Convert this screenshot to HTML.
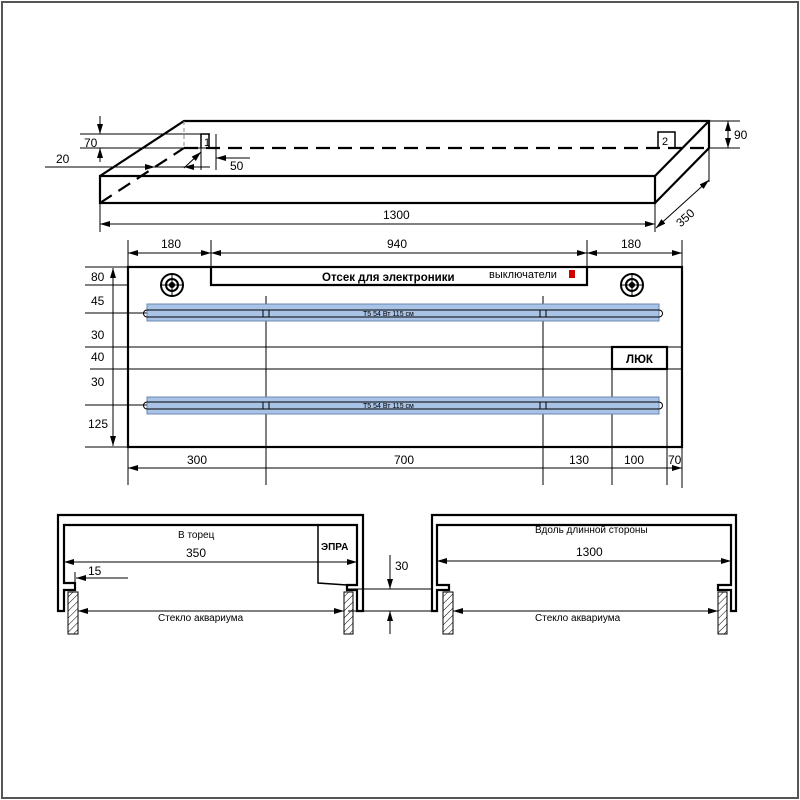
<!DOCTYPE html>
<html><head><meta charset="utf-8"><style>body{margin:0;background:#fff}svg{display:block}text{font-family:"Liberation Sans",sans-serif;fill:#000}</style></head>
<body>
<svg width="800" height="800" viewBox="0 0 800 800" xmlns="http://www.w3.org/2000/svg">
<defs>
<marker id="a" viewBox="0 0 10 6" refX="10" refY="3" markerWidth="10" markerHeight="6" orient="auto-start-reverse" markerUnits="userSpaceOnUse"><path d="M0,0L10,3L0,6z"/></marker>
<pattern id="h" width="5" height="5" patternUnits="userSpaceOnUse" patternTransform="rotate(45)"><line x1="0" y1="0" x2="0" y2="5" stroke="#000" stroke-width="1"/></pattern>
</defs>
<rect x="2" y="2" width="796" height="796" fill="none" stroke="#555" stroke-width="2"/>

<!-- 3D box -->
<g stroke="#000" fill="none">
<g stroke-width="2.2">
<rect x="100" y="176" width="555" height="27"/>
<path d="M100,176L184,121H709V148L655,203M655,176L709,121"/>
<path d="M184,148H709M100,203L184,148" stroke-dasharray="14,8"/>
</g>
<line x1="184" y1="121" x2="184" y2="148" stroke="#888" stroke-dasharray="4,3"/>
<path d="M201,148V134H209V148M658,148V132H675V148" stroke-width="1.5"/>
<g stroke-width="1">
<path d="M80,134H210M80,148H210M45,167H210M201,134V170M216,134V170M100,203V232M655,203V232M709,121H740M709,148H740M709,148V182"/>
<line x1="100" y1="116" x2="100" y2="134" marker-end="url(#a)"/>
<line x1="100" y1="162" x2="100" y2="148" marker-end="url(#a)"/>
<line x1="125" y1="167" x2="155" y2="167" marker-end="url(#a)"/>
<line x1="200" y1="167" x2="184" y2="167" marker-end="url(#a)"/>
<line x1="184" y1="168" x2="201" y2="152" marker-end="url(#a)"/>
<line x1="250" y1="158" x2="216" y2="158" marker-end="url(#a)"/>
<line x1="100" y1="224" x2="655" y2="224" marker-start="url(#a)" marker-end="url(#a)"/>
<line x1="728" y1="121" x2="728" y2="148" marker-start="url(#a)" marker-end="url(#a)"/>
<line x1="656" y1="228" x2="709" y2="180" marker-start="url(#a)" marker-end="url(#a)"/>
</g>
</g>
<g font-size="12">
<text x="84" y="147">70</text><text x="56" y="163">20</text><text x="230" y="170">50</text>
<text x="204" y="146" font-size="11">1</text><text x="662" y="145" font-size="11">2</text>
<text x="383" y="219">1300</text><text x="734" y="139">90</text>
<text x="670" y="224" transform="rotate(-42 680 212)">350</text>
</g>

<!-- plan -->
<g stroke="#000" fill="none">
<rect x="128" y="267" width="554" height="180" stroke-width="2.2"/>
<path d="M211,267V285H587V267" stroke-width="2.2"/>
<rect x="612" y="347" width="55" height="22" stroke-width="2.2"/>
<g stroke-width="1">
<path d="M85,267H128M85,285H128M85,313H147M85,347H682M90,369H682M85,405H147M85,447H128M266,296V485M543,296V485M612,369V485M667,369V485M682,447V488M128,447V485M128,240V267M211,240V267M587,240V285M682,240V267"/>
<line x1="113" y1="268" x2="113" y2="446" marker-start="url(#a)" marker-end="url(#a)"/>
<line x1="128" y1="253" x2="211" y2="253" marker-start="url(#a)" marker-end="url(#a)"/>
<line x1="211" y1="253" x2="587" y2="253" marker-start="url(#a)" marker-end="url(#a)"/>
<line x1="587" y1="253" x2="682" y2="253" marker-start="url(#a)" marker-end="url(#a)"/>
<line x1="128" y1="468" x2="682" y2="468" marker-start="url(#a)" marker-end="url(#a)"/>
</g>
<g stroke-width="2">
<circle cx="172" cy="285" r="11"/><circle cx="172" cy="285" r="6"/>
<circle cx="632" cy="285" r="11"/><circle cx="632" cy="285" r="6"/>
</g>
<circle cx="172" cy="285" r="2.5" fill="#000"/><circle cx="632" cy="285" r="2.5" fill="#000"/>
<path d="M160,285H184M172,273V297M620,285H644M632,273V297" stroke-width="1"/>
<rect x="147" y="304" width="512" height="17" fill="#a9c3e6" stroke="#6b87b0" stroke-width="1"/>
<rect x="147" y="397" width="512" height="17" fill="#a9c3e6" stroke="#6b87b0" stroke-width="1"/>
<path d="M147,310H659A3.5,3.5 0 0 1 659,317H147A3.5,3.5 0 0 1 147,310Z" stroke-width="1"/>
<path d="M147,402H659A3.5,3.5 0 0 1 659,409H147A3.5,3.5 0 0 1 147,402Z" stroke-width="1"/>
<rect x="263" y="310" width="6" height="7" stroke-width="1"/><rect x="540" y="310" width="6" height="7" stroke-width="1"/>
<rect x="263" y="402" width="6" height="7" stroke-width="1"/><rect x="540" y="402" width="6" height="7" stroke-width="1"/>
</g>
<rect x="569" y="270" width="6" height="8" fill="#c00"/>
<g font-size="12">
<text x="322" y="281" font-weight="bold" font-size="11.5">Отсек для электроники</text>
<text x="489" y="278" font-size="11">выключатели</text>
<text x="626" y="363" font-weight="bold" font-size="11.5">ЛЮК</text>
<text x="363" y="316" font-size="7">T5 54 Вт 115 см</text>
<text x="363" y="408" font-size="7">T5 54 Вт 115 см</text>
<text x="91" y="281">80</text><text x="91" y="305">45</text><text x="91" y="339">30</text>
<text x="91" y="361">40</text><text x="91" y="386">30</text><text x="88" y="428">125</text>
<text x="161" y="248">180</text><text x="387" y="248">940</text><text x="621" y="248">180</text>
<text x="187" y="464">300</text><text x="394" y="464">700</text><text x="569" y="464">130</text>
<text x="624" y="464">100</text><text x="668" y="464">70</text>
</g>

<!-- sections -->
<g stroke="#000" fill="none">
<path d="M58,611V515H363V611H357V590H347V585H357V525H64V583H75V590H64V611Z" stroke-width="2.2"/>
<path d="M318,525V583L347,585" stroke-width="1.5"/>
<path d="M432,611V515H736V611H731V590H718V585H731V525H437V585H449V590H437V611Z" stroke-width="2.2"/>
<g fill="url(#h)" stroke-width="1">
<rect x="68" y="592" width="10" height="42"/><rect x="344" y="592" width="9" height="42"/>
<rect x="443" y="592" width="10" height="42"/><rect x="718" y="592" width="9" height="42"/>
</g>
<g stroke-width="1">
<path d="M75,572V590M348,589H432M348,611H432"/>
<line x1="64" y1="562" x2="357" y2="562" marker-start="url(#a)" marker-end="url(#a)"/>
<line x1="128" y1="578" x2="76" y2="578" marker-end="url(#a)"/>
<line x1="78" y1="611" x2="344" y2="611" marker-start="url(#a)" marker-end="url(#a)"/>
<line x1="390" y1="555" x2="390" y2="589" marker-end="url(#a)"/>
<line x1="390" y1="634" x2="390" y2="611" marker-end="url(#a)"/>
<line x1="437" y1="561" x2="731" y2="561" marker-start="url(#a)" marker-end="url(#a)"/>
<line x1="453" y1="611" x2="718" y2="611" marker-start="url(#a)" marker-end="url(#a)"/>
</g>
</g>
<g font-size="12">
<text x="178" y="538" font-size="10">В торец</text>
<text x="186" y="557">350</text>
<text x="88" y="575">15</text>
<text x="321" y="550" font-weight="bold" font-size="10">ЭПРА</text>
<text x="158" y="621" font-size="10">Стекло аквариума</text>
<text x="395" y="570">30</text>
<text x="535" y="533" font-size="10">Вдоль длинной стороны</text>
<text x="576" y="556">1300</text>
<text x="535" y="621" font-size="10">Стекло аквариума</text>
</g>
</svg>
</body></html>
